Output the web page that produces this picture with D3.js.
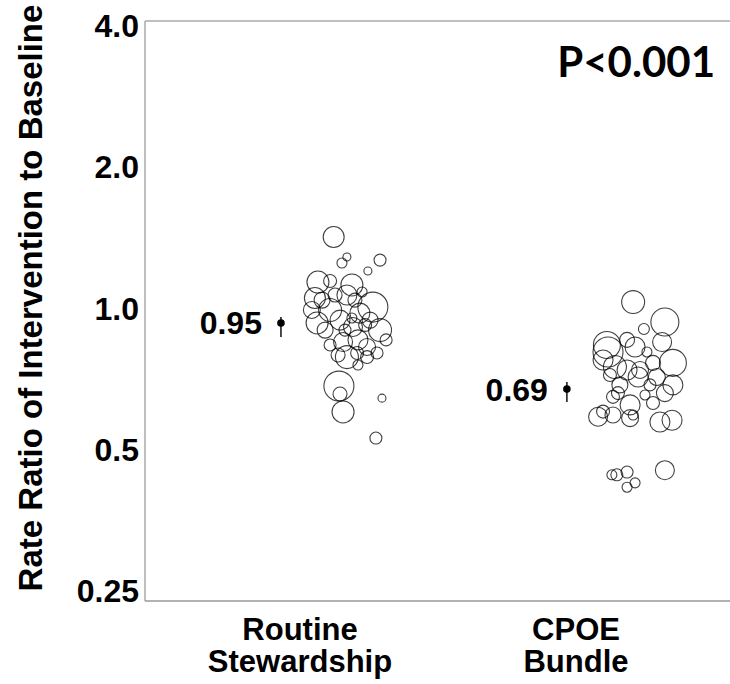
<!DOCTYPE html>
<html>
<head>
<meta charset="utf-8">
<script src="https://cdn.jsdelivr.net/npm/d3@7"></script>
<style>
	body{margin:0;background:#fff;}
	text{font-family:"Liberation Sans",Arial,sans-serif;font-weight:bold;fill:#000;}
</style>
</head>
<body>
<svg id="chart" width="730" height="684"></svg>
<script>
// groups and summary
let groups = ['Routine Stewardship','CPOE Bundle']
let groupLines = [['Routine','Stewardship'],['CPOE','Bundle']]
let meanLabels = ['0.95','0.69']
let means = [0.927,0.670]
let ciLow = [0.865,0.629]
let ciHigh = [0.954,0.694]
let markerShift = [-0.069,-0.033]
let yTicks = [0.25,0.5,1,2,4]

// hospital level ratios: jitter (x units), ratio, weight
let jit1 = [0.122,0.170,0.152,0.290,0.246,0.065,0.109,0.188,0.054,0.043,0.170,0.264,0.217,0.109,0.062,0.145,0.192,0.290,0.236,0.156,0.210,0.243,0.170,0.207,0.279,0.243,0.141,0.145,0.156,0.297,0.275,0.080,0.127,0.199,0.225,0.163,0.091,0.188,0.254,0.312,0.138,0.210,0.109]
let ratio1 = [1.413,1.281,1.244,1.262,1.196,1.133,1.139,1.117,1.048,0.988,1.063,1.002,0.973,0.988,0.927,0.940,0.909,0.895,0.918,0.844,0.853,0.824,0.784,0.800,0.800,0.784,0.680,0.654,0.599,0.641,0.527,1.037,1.063,1.037,1.079,0.895,0.895,0.950,0.940,0.853,0.792,0.754,0.832]
let weight1 = [110,16,25,36,16,121,42,121,110,72,100,225,100,132,121,100,90,132,42,90,100,72,132,42,36,42,225,49,121,16,36,64,49,49,25,36,64,25,64,36,49,25,36]

let jit2 = [0.207,0.322,0.246,0.112,0.116,0.185,0.214,0.312,0.257,0.351,0.098,0.141,0.185,0.232,0.225,0.123,0.279,0.293,0.351,0.322,0.152,0.196,0.134,0.279,0.080,0.098,0.196,0.207,0.304,0.348,0.130,0.148,0.185,0.214,0.185,0.322,0.268,0.159,0.250,0.134]
let ratio2 = [1.027,0.931,0.900,0.832,0.804,0.853,0.824,0.844,0.804,0.762,0.773,0.747,0.736,0.736,0.711,0.718,0.762,0.711,0.684,0.657,0.657,0.620,0.645,0.626,0.585,0.600,0.581,0.590,0.570,0.575,0.440,0.440,0.446,0.423,0.414,0.450,0.684,0.684,0.651,0.590]
let weight2 = [132,196,30,182,225,56,100,90,25,182,100,132,100,72,100,42,56,72,100,72,42,100,42,42,90,42,72,25,100,100,25,36,36,25,25,90,36,64,25,64]

let svg = d3.select('#chart')

let x = d3.scaleLinear().domain([1,2]).range([300,576])
let y = d3.scaleLog().base(2).domain([0.25,4]).range([590,25])
let r = d3.scaleSqrt().domain([0,100]).range([0,10])

// frame
svg.append('line').attr('x1',145).attr('x2',145).attr('y1',21).attr('y2',601)
	.attr('stroke','#aaa').attr('stroke-width',1.5)
svg.append('line').attr('x1',145).attr('x2',730).attr('y1',21).attr('y2',21)
	.attr('stroke','#aaa').attr('stroke-width',1.5)
svg.append('line').attr('x1',145).attr('x2',730).attr('y1',601).attr('y2',601)
	.attr('stroke','#999').attr('stroke-width',1.5)

let yAxis = d3.axisLeft(y).tickValues(yTicks).tickSize(0).tickPadding(0)
	.tickFormat(d=>d<0.5?d3.format('.2f')(d):d3.format('.1f')(d))
let ya = svg.append('g').attr('transform','translate(139,0)').call(yAxis)
ya.select('.domain').remove()
ya.selectAll('text').attr('font-size',32).attr('font-family','"Liberation Sans",Arial,sans-serif')
	.attr('font-weight','bold').attr('fill','#000').attr('dy','0.36em')

svg.append('text').attr('transform','translate(42,298) rotate(-90)')
	.attr('text-anchor','middle').attr('font-size',33)
	.text('Rate Ratio of Intervention to Baseline')

// category labels
groupLines.forEach(function(lines,i){
	lines.forEach(function(l,j){
		svg.append('text').attr('x',x(i+1)).attr('y',640+j*32)
			.attr('text-anchor','middle').attr('font-size',31).text(l)
	})
})

// hospitals
let sets = [[jit1,ratio1,weight1],[jit2,ratio2,weight2]]
sets.forEach(function(s,i){
	let pts = s[0].map(function(j,k){ return {'x':i+1+j,'v':s[1][k],'w':s[2][k]} })
	svg.append('g').selectAll('circle').data(pts).enter().append('circle')
		.attr('cx',d=>x(d.x)).attr('cy',d=>y(d.v)).attr('r',d=>r(d.w))
		.attr('fill','none').attr('stroke','#000').attr('stroke-opacity',0.75).attr('stroke-width',1.1)
})

// pooled estimates
means.forEach(function(m,i){
	let cx = x(i+1+markerShift[i])
	svg.append('line').attr('x1',cx).attr('x2',cx).attr('y1',y(ciHigh[i])).attr('y2',y(ciLow[i]))
		.attr('stroke','#111').attr('stroke-width',1.5)
	svg.append('circle').attr('cx',cx).attr('cy',y(m)).attr('r',3.8).attr('fill','#000')
	svg.append('text').attr('x',cx-19).attr('y',y(m)).attr('dy','0.36em')
		.attr('text-anchor','end').attr('font-size',32).text(meanLabels[i])
})

svg.append('text').attr('x',715).attr('y',77).attr('text-anchor','end')
	.style('font-family','Lato,"Open Sans",sans-serif').attr('font-size',42).text('P<0.001')
</script>
</body>
</html>
